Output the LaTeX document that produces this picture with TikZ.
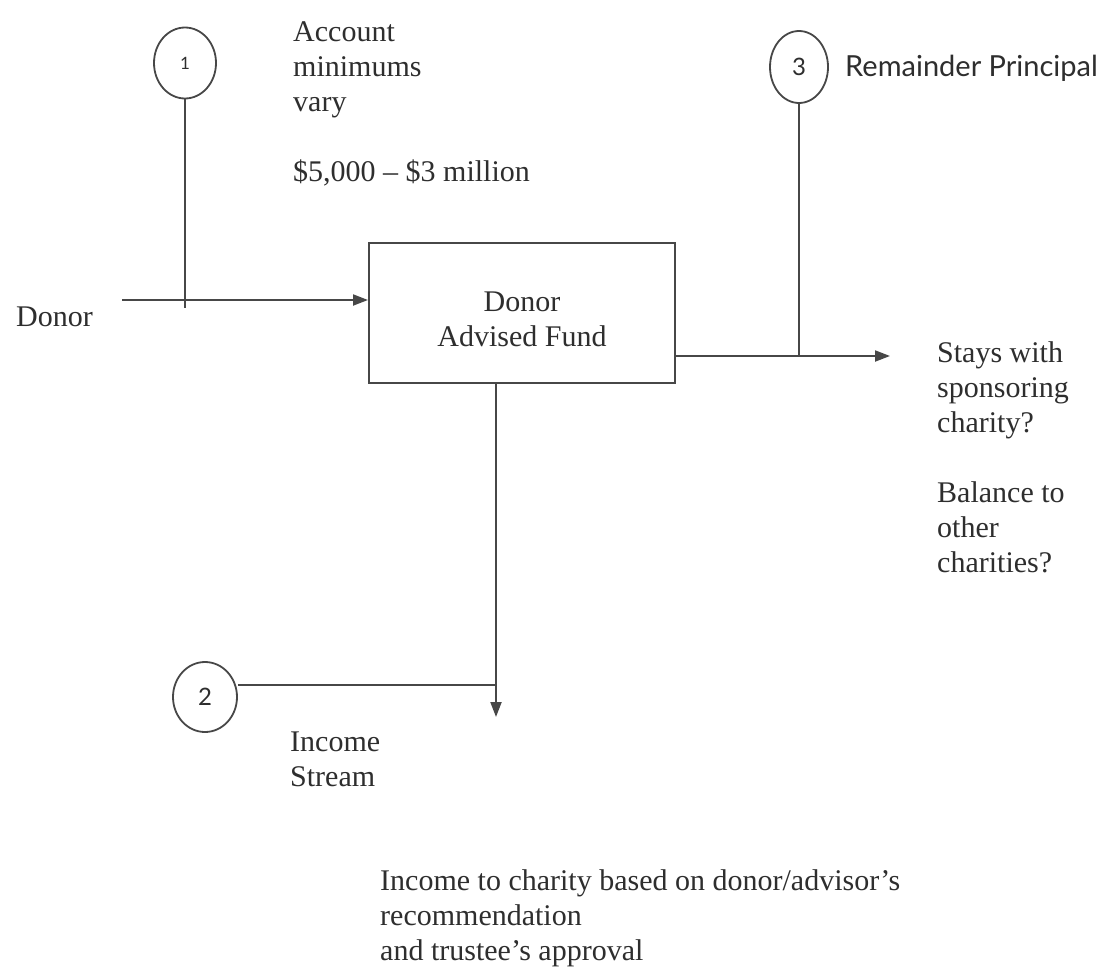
\documentclass[tikz,border=0pt]{standalone}
\usepackage{fontspec}
\setmainfont{Liberation Serif}
\newfontfamily\latofont{Lato}
\usetikzlibrary{arrows.meta,shapes.geometric}
\definecolor{ink}{HTML}{2E2E2E}
\definecolor{linec}{HTML}{474747}
\newcommand{\fl}{\rule{0pt}{24pt}}
\tikzset{
  txt/.style={inner sep=0pt, anchor=north west, align=left, text=ink, font=\fontsize{30}{35}\selectfont},
  num/.style={ellipse, draw=linec, line width=1.8pt, inner sep=0pt, text=ink, font=\latofont\fontsize{24}{24}\selectfont},
  fundbox/.style={draw=linec, line width=2pt, minimum width=306pt, minimum height=140pt, inner sep=0pt, align=center, text=ink, font=\fontsize{30}{35}\selectfont},
  conn/.style={draw=linec, line width=2pt},
  arr/.style={conn, -{Triangle[length=15pt,width=11pt]}},
}
\begin{document}
\begin{tikzpicture}[x=1pt,y=-1pt]
\useasboundingbox[fill=white] (0,0) rectangle (1105,969);

% numbered circles
\node[num, minimum width=62pt, minimum height=71pt, font=\latofont\fontsize{17}{17}\selectfont] (c1) at (185,63) {1};
\node[num, minimum width=58pt, minimum height=72pt] (c3) at (799,67) {3};
\node[num, minimum width=64pt, minimum height=70pt] (c2) at (205,697) {2};

% main box
\node[fundbox] (box) at (522,313) {\rule{0pt}{33pt}Donor\\Advised Fund};

% texts
\node[txt] (acct) at (293,17) {\fl Account\\minimums\\vary\\[35pt]\$5,000 -- \$3 million};
\node[inner sep=0pt, anchor=base west, text=ink, font=\latofont\fontsize{29}{35}\selectfont] (rp) at (845,76) {Remainder Principal};
\node[inner sep=0pt, anchor=base west, text=ink, font=\fontsize{30}{35}\selectfont] (donor) at (16,326) {Donor};
\node[txt] (stays) at (937,338) {\fl Stays with\\sponsoring\\charity?\\[35pt]Balance to\\other\\charities?};
\node[txt] (income) at (290,727) {\fl Income\\Stream};
\node[txt] (bottom) at (380,866) {\fl Income to charity based on donor/advisor’s\\recommendation\\and trustee’s approval};

% connector endpoints
\coordinate (dstart) at (122,300);
\coordinate (c1end) at (183,308);
\coordinate (rtip) at (890,356);
\coordinate (dtip) at (496,717);
\coordinate (c2end) at (496,685);

% connectors
\draw[arr] (dstart) -- (dstart -| box.west);
\draw[conn] (c1.south) -- (c1.south |- c1end);
\draw[arr] (rtip -| box.east) -- (rtip);
\draw[conn] (c3.south) -- (c3.south |- rtip);
\draw[arr] (dtip |- box.south) -- (dtip);
\draw[conn] (c2.east |- c2end) -- (c2end);
\end{tikzpicture}
\end{document}
